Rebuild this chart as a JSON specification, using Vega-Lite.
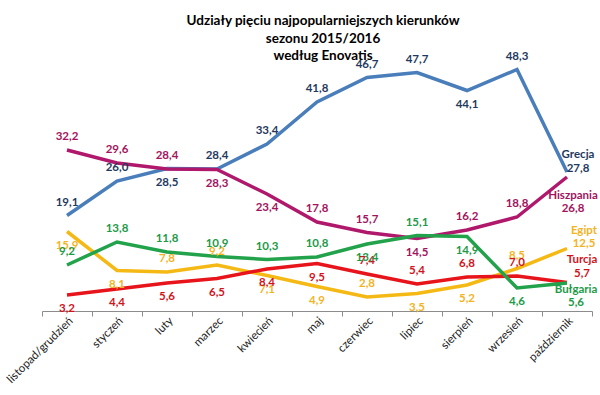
{
  "$schema": "https://vega.github.io/schema/vega-lite/v6.json",
  "autosize": "none",
  "width": 550,
  "height": 250,
  "padding": {"left": 42, "top": 61, "right": 8, "bottom": 84},
  "background": "white",
  "config": {
    "font": "Lato",
    "view": {"stroke": null},
    "locale": {"number": {"decimal": ",", "thousands": " ", "grouping": [3], "currency": ["", " zł"]}}
  },
  "title": {
    "text": ["Udziały pięciu najpopularniejszych kierunków", "sezonu 2015/2016", "według Enovatis"],
    "fontSize": 13.5,
    "fontWeight": "bold",
    "color": "#000000",
    "lineHeight": 17.5,
    "anchor": "middle",
    "dx": 6,
    "offset": -12
  },
  "data": {
    "values": [
      {"month": "listopad/grudzień", "series": "Grecja", "value": 19.1},
      {"month": "styczeń", "series": "Grecja", "value": 26.0},
      {"month": "luty", "series": "Grecja", "value": 28.5},
      {"month": "marzec", "series": "Grecja", "value": 28.4},
      {"month": "kwiecień", "series": "Grecja", "value": 33.4},
      {"month": "maj", "series": "Grecja", "value": 41.8},
      {"month": "czerwiec", "series": "Grecja", "value": 46.7},
      {"month": "lipiec", "series": "Grecja", "value": 47.7},
      {"month": "sierpień", "series": "Grecja", "value": 44.1},
      {"month": "wrzesień", "series": "Grecja", "value": 48.3},
      {"month": "październik", "series": "Grecja", "value": 27.8},
      {"month": "listopad/grudzień", "series": "Hiszpania", "value": 32.2},
      {"month": "styczeń", "series": "Hiszpania", "value": 29.6},
      {"month": "luty", "series": "Hiszpania", "value": 28.4},
      {"month": "marzec", "series": "Hiszpania", "value": 28.3},
      {"month": "kwiecień", "series": "Hiszpania", "value": 23.4},
      {"month": "maj", "series": "Hiszpania", "value": 17.8},
      {"month": "czerwiec", "series": "Hiszpania", "value": 15.7},
      {"month": "lipiec", "series": "Hiszpania", "value": 14.5},
      {"month": "sierpień", "series": "Hiszpania", "value": 16.2},
      {"month": "wrzesień", "series": "Hiszpania", "value": 18.8},
      {"month": "październik", "series": "Hiszpania", "value": 26.8},
      {"month": "listopad/grudzień", "series": "Egipt", "value": 15.9},
      {"month": "styczeń", "series": "Egipt", "value": 8.1},
      {"month": "luty", "series": "Egipt", "value": 7.8},
      {"month": "marzec", "series": "Egipt", "value": 9.2},
      {"month": "kwiecień", "series": "Egipt", "value": 7.1},
      {"month": "maj", "series": "Egipt", "value": 4.9},
      {"month": "czerwiec", "series": "Egipt", "value": 2.8},
      {"month": "lipiec", "series": "Egipt", "value": 3.5},
      {"month": "sierpień", "series": "Egipt", "value": 5.2},
      {"month": "wrzesień", "series": "Egipt", "value": 8.5},
      {"month": "październik", "series": "Egipt", "value": 12.5},
      {"month": "listopad/grudzień", "series": "Turcja", "value": 3.2},
      {"month": "styczeń", "series": "Turcja", "value": 4.4},
      {"month": "luty", "series": "Turcja", "value": 5.6},
      {"month": "marzec", "series": "Turcja", "value": 6.5},
      {"month": "kwiecień", "series": "Turcja", "value": 8.4},
      {"month": "maj", "series": "Turcja", "value": 9.5},
      {"month": "czerwiec", "series": "Turcja", "value": 7.4},
      {"month": "lipiec", "series": "Turcja", "value": 5.4},
      {"month": "sierpień", "series": "Turcja", "value": 6.8},
      {"month": "wrzesień", "series": "Turcja", "value": 7.0},
      {"month": "październik", "series": "Turcja", "value": 5.7},
      {"month": "listopad/grudzień", "series": "Bułgaria", "value": 9.2},
      {"month": "styczeń", "series": "Bułgaria", "value": 13.8},
      {"month": "luty", "series": "Bułgaria", "value": 11.8},
      {"month": "marzec", "series": "Bułgaria", "value": 10.9},
      {"month": "kwiecień", "series": "Bułgaria", "value": 10.3},
      {"month": "maj", "series": "Bułgaria", "value": 10.8},
      {"month": "czerwiec", "series": "Bułgaria", "value": 13.4},
      {"month": "lipiec", "series": "Bułgaria", "value": 15.1},
      {"month": "sierpień", "series": "Bułgaria", "value": 14.9},
      {"month": "wrzesień", "series": "Bułgaria", "value": 4.6},
      {"month": "październik", "series": "Bułgaria", "value": 5.6}
    ]
  },
  "encoding": {
    "x": {
      "field": "month",
      "type": "ordinal",
      "sort": ["listopad/grudzień", "styczeń", "luty", "marzec", "kwiecień", "maj", "czerwiec", "lipiec", "sierpień", "wrzesień", "październik"],
      "scale": {"type": "band", "paddingInner": 0, "paddingOuter": 0},
      "axis": {
        "title": null,
        "labelAngle": -45,
        "labelAlign": "right",
        "labelBaseline": "middle",
        "labelFontSize": 11.5,
        "labelColor": "#222222",
        "labelPadding": 3,
        "labelOffset": 4,
        "tickBand": "extent",
        "tickSize": 5,
        "tickColor": "#8c8c8c",
        "domainColor": "#8c8c8c",
        "grid": false
      }
    },
    "y": {
      "field": "value",
      "type": "quantitative",
      "scale": {"domain": [0, 50], "nice": false},
      "axis": null
    }
  },
  "layer": [
    {
      "mark": {"type": "line", "strokeWidth": 3.5},
      "encoding": {
        "color": {
          "field": "series",
          "type": "nominal",
          "scale": {
            "domain": ["Grecja", "Hiszpania", "Egipt", "Turcja", "Bułgaria"],
            "range": ["#4A7EBB", "#B0186C", "#F5B915", "#E8141B", "#22A24B"]
          },
          "legend": null
        }
      }
    },
    {
      "transform": [{"filter": "datum.month != 'październik'"}],
      "mark": {
        "type": "text",
        "fontSize": 11.5,
        "fontWeight": "bold",
        "baseline": "middle",
        "align": "center",
        "dy": {"expr": "indexof(['Grecja|luty','Grecja|sierpień','Hiszpania|marzec','Hiszpania|kwiecień','Hiszpania|lipiec','Egipt|listopad/grudzień','Egipt|styczeń','Egipt|kwiecień','Egipt|maj','Egipt|lipiec','Egipt|sierpień','Turcja|listopad/grudzień','Turcja|styczeń','Turcja|luty','Turcja|marzec','Turcja|kwiecień','Turcja|maj','Bułgaria|czerwiec','Bułgaria|sierpień','Bułgaria|wrzesień'], datum.series + '|' + datum.month) >= 0 ? 14 : -13"}
      },
      "encoding": {
        "text": {"field": "value", "type": "quantitative", "format": ".1f"},
        "color": {
          "field": "series",
          "type": "nominal",
          "scale": {
            "domain": ["Grecja", "Hiszpania", "Egipt", "Turcja", "Bułgaria"],
            "range": ["#1F3A5F", "#A3145E", "#F2B41F", "#D0141C", "#1E9A48"]
          },
          "legend": null
        }
      }
    },
    {
      "transform": [{"filter": "datum.month == 'październik'"}],
      "mark": {
        "type": "text",
        "fontSize": 11.5,
        "fontWeight": "bold",
        "baseline": "middle",
        "align": "center",
        "dx": {"expr": "datum.series == 'Grecja' ? 11 : datum.series == 'Hiszpania' ? 6 : datum.series == 'Egipt' ? 17 : datum.series == 'Turcja' ? 15 : 9"},
        "dy": {"expr": "datum.series == 'Grecja' ? -17 : datum.series == 'Hiszpania' ? 19 : datum.series == 'Egipt' ? -18 : datum.series == 'Turcja' ? -23 : 7"}
      },
      "encoding": {
        "text": {"field": "series", "type": "nominal"},
        "color": {
          "field": "series",
          "type": "nominal",
          "scale": {
            "domain": ["Grecja", "Hiszpania", "Egipt", "Turcja", "Bułgaria"],
            "range": ["#1F3A5F", "#A3145E", "#F2B41F", "#D0141C", "#1E9A48"]
          },
          "legend": null
        }
      }
    },
    {
      "transform": [{"filter": "datum.month == 'październik'"}],
      "mark": {
        "type": "text",
        "fontSize": 11.5,
        "fontWeight": "bold",
        "baseline": "middle",
        "align": "center",
        "dx": {"expr": "datum.series == 'Grecja' ? 11 : datum.series == 'Hiszpania' ? 6 : datum.series == 'Egipt' ? 17 : datum.series == 'Turcja' ? 15 : 9"},
        "dy": {"expr": "datum.series == 'Grecja' ? -3 : datum.series == 'Hiszpania' ? 32 : datum.series == 'Egipt' ? -5 : datum.series == 'Turcja' ? -9 : 20"}
      },
      "encoding": {
        "text": {"field": "value", "type": "quantitative", "format": ".1f"},
        "color": {
          "field": "series",
          "type": "nominal",
          "scale": {
            "domain": ["Grecja", "Hiszpania", "Egipt", "Turcja", "Bułgaria"],
            "range": ["#1F3A5F", "#A3145E", "#F2B41F", "#D0141C", "#1E9A48"]
          },
          "legend": null
        }
      }
    }
  ],
  "resolve": {"scale": {"color": "independent"}}
}
